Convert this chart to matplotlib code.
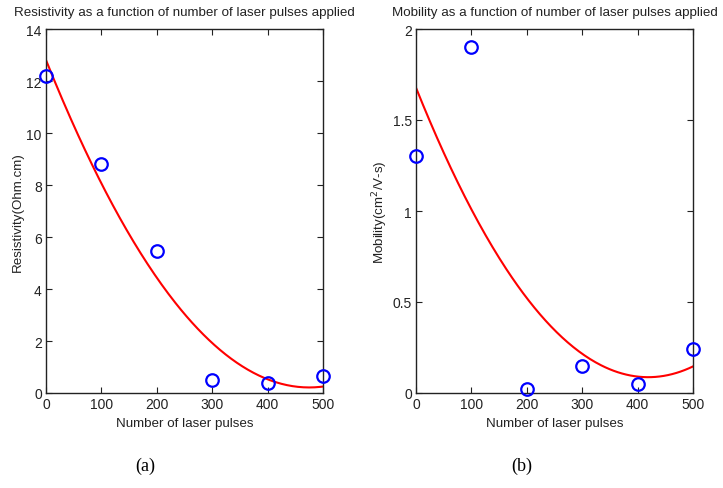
import numpy as np
import matplotlib
matplotlib.use('Agg')
import matplotlib.pyplot as plt

# data
pulses = [0, 100, 200, 300, 400, 500]
resistivity = [12.2, 8.8, 5.45, 0.5, 0.4, 0.65]
mobility = [1.3, 1.9, 0.02, 0.15, 0.05, 0.24]

plt.rcParams['font.family'] = ['Liberation Sans', 'DejaVu Sans']
plt.rcParams['font.size'] = 8

fig = plt.figure(figsize=(7.23, 4.89), dpi=100)
ax1 = fig.add_axes([46 / 723, 95 / 489, 277 / 723, 364 / 489])
ax2 = fig.add_axes([416 / 723, 95 / 489, 277 / 723, 364 / 489])

xs = np.linspace(0, 500, 200)

def panel(ax, y, title, ylabel, ylim, yticks, yticklabels):
    # quadratic fit like MATLAB basic fitting
    coef = np.polyfit(pulses, y, 2)
    ax.plot(xs, np.polyval(coef, xs), color='red', lw=1.5, zorder=2)
    ax.plot(pulses, y, 'o', mfc='none', mec='blue', mew=1.6, ms=9, clip_on=False, zorder=3)
    ax.set_xlim(0, 500)
    ax.set_ylim(*ylim)
    ax.set_xticks(pulses)
    ax.set_yticks(yticks)
    ax.set_yticklabels(yticklabels)
    ax.tick_params(direction='in', top=True, right=True, length=4, width=0.8,
                   labelsize=10, pad=3, colors='#222222', labelcolor='#222222')
    for s in ax.spines.values():
        s.set_linewidth(1.0)
        s.set_color('#222222')
    ax.set_title(title, fontsize=9.6, pad=10, color='#222222')
    ax.set_xlabel('Number of laser pulses', fontsize=9.6, labelpad=4, color='#222222')
    ax.set_ylabel(ylabel, fontsize=9.6, labelpad=2, color='#222222')

panel(ax1, resistivity, 'Resistivity as a function of number of laser pulses applied',
      'Resistivity(Ohm.cm)', (0, 14), [0, 2, 4, 6, 8, 10, 12, 14],
      ['0', '2', '4', '6', '8', '10', '12', '14'])
panel(ax2, mobility, 'Mobility as a function of number of laser pulses applied',
      'Mobility(cm$^2$/V-s)', (0, 2), [0, 0.5, 1, 1.5, 2],
      ['0', '0.5', '1', '1.5', '2'])

fig.text(145 / 723, 1 - 466 / 489, '(a)', fontsize=13, family='Liberation Serif', ha='center', va='center')
fig.text(522 / 723, 1 - 466 / 489, '(b)', fontsize=13, family='Liberation Serif', ha='center', va='center')

fig.savefig('out.png', dpi=100)
